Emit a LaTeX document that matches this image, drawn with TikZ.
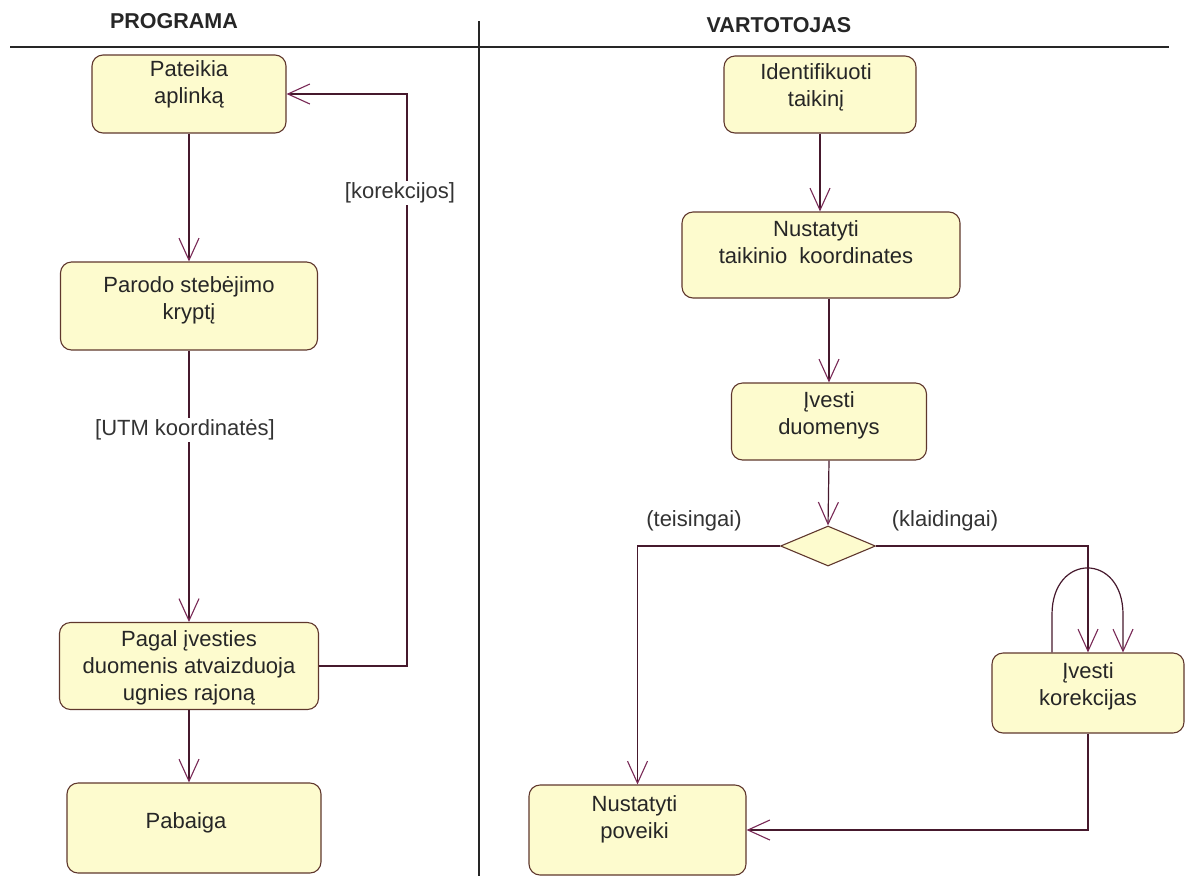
\documentclass[tikz,border=0pt]{standalone}
\usepackage{fontspec}
\setmainfont{Liberation Sans}
\usetikzlibrary{arrows.meta,shapes.geometric}
\definecolor{actfill}{RGB}{253,251,206}
\definecolor{actline}{RGB}{95,55,45}
\definecolor{flow}{RGB}{70,25,45}
\definecolor{tip}{RGB}{120,40,85}

\begin{document}
\begin{tikzpicture}[x=1pt,y=-1pt,
  act/.style={draw=actline, fill=actfill, rounded corners=11pt, line width=1.1pt, inner sep=0pt},
  txt/.style={align=center, font=\fontsize{22}{27}\selectfont, inner sep=0pt, text=black!85},
  lbl/.style={font=\fontsize{22}{26}\selectfont, inner sep=2pt, text=black!80},
  title/.style={font=\bfseries\fontsize{21.5}{25}\selectfont, text=black!85},
  flowline/.style={draw=flow, line width=1.2pt},
  arr/.style={flowline, -{Straight Barb[length=22pt,width=20pt,line width=1.1pt,color=tip]}},
  rule/.style={draw=black!85, line width=1.2pt}]

% page frame
\useasboundingbox (0,0) rectangle (1193,876);

% swimlane headers and separators
\node[title] (hprog) at (174,21) {PROGRAMA};
\node[title] (hvart) at (779,25) {VARTOTOJAS};
\coordinate (rl) at (10,47);
\coordinate (rr) at (1169,47);
\coordinate (dt) at (479,21);
\coordinate (db) at (479,876);
\draw[rule] (rl) -- (rr);
\draw[rule] (dt) -- (db);

% left lane activities
\node[act, minimum width=194pt, minimum height=78pt] (pat) at (189,94) {};
\node[txt] (pat-t) at ([yshift=10pt]pat.center) {Pateikia\\aplinką};
\node[act, minimum width=257pt, minimum height=88pt] (par) at (189,306) {};
\node[txt] (par-t) at ([yshift=6pt]par.center) {Parodo stebėjimo\\kryptį};
\node[act, minimum width=259pt, minimum height=87pt] (pag) at (189,666) {};
\node[txt] (pag-t) at ([yshift=-2pt]pag.center) {Pagal įvesties\\duomenis atvaizduoja\\ugnies rajoną};
\node[act, minimum width=254pt, minimum height=90pt] (pab) at (194,828) {};
\node[txt] (pab-t) at ([xshift=-8pt,yshift=5pt]pab.center) {Pabaiga};

% right lane activities
\node[act, minimum width=192pt, minimum height=77pt] (ide) at (820,94.5) {};
\node[txt] (ide-t) at ([xshift=-4pt,yshift=7pt]ide.center) {Identifikuoti\\taikinį};
\node[act, minimum width=278pt, minimum height=86pt] (nus) at (821,255) {};
\node[txt] (nus-t) at ([xshift=-5pt,yshift=13pt]nus.center) {Nustatyti\\taikinio\ \ koordinates};
\node[act, minimum width=195pt, minimum height=77pt] (ivd) at (829,421.5) {};
\node[txt] (ivd-t) at ([yshift=6pt]ivd.center) {Įvesti\\duomenys};
\node[draw=actline, fill=actfill, line width=1.1pt, diamond, inner sep=0pt,
      minimum width=95pt, minimum height=40pt] (dec) at (828,546) {};
\node[act, minimum width=192pt, minimum height=80pt] (kor) at (1088,693) {};
\node[txt] (kor-t) at ([yshift=7pt]kor.center) {Įvesti\\korekcijas};
\node[act, minimum width=217pt, minimum height=90pt] (pov) at (637.5,830) {};
\node[txt] (pov-t) at ([xshift=-3pt,yshift=11pt]pov.center) {Nustatyti\\poveiki};

% left lane flow
\draw[arr] (pat.south) -- (par.north);
\draw[arr] (par.south) -- (pag.north);
\node[lbl, fill=white] (utm) at (185,430) {[UTM koordinatės]};
\draw[arr] (pag.south) -- (pag.south |- pab.north);
\coordinate (back) at (407,0);
\draw[arr] (pag.east) -- (pag.east -| back) -- (back |- pat.east) -- (pat.east);
\node[lbl, fill=white] (korl) at (400,193) {[korekcijos]};

% right lane flow
\draw[arr] (ide.south) -- (ide.south |- nus.north);
\draw[arr] (nus.south -| ivd.north) -- (ivd.north);
\draw[arr] (ivd.south) -- (dec.north);
\draw[arr] (dec.west) -| (pov.north);
\draw[arr] (dec.east) -| (kor.north);
\draw[arr] ([xshift=-36pt]kor.north) -- ++(0,-38)
  .. controls ++(0,-62) and ([xshift=35pt,yshift=100pt]kor.north) ..
  ([xshift=35pt,yshift=38pt]kor.north) -- ([xshift=35pt]kor.north);
\draw[arr] (kor.south) |- (pov.east);
\node[lbl] (tlab) at (694,521) {(teisingai)};
\node[lbl] (klab) at (945,521) {(klaidingai)};
\end{tikzpicture}
\end{document}
